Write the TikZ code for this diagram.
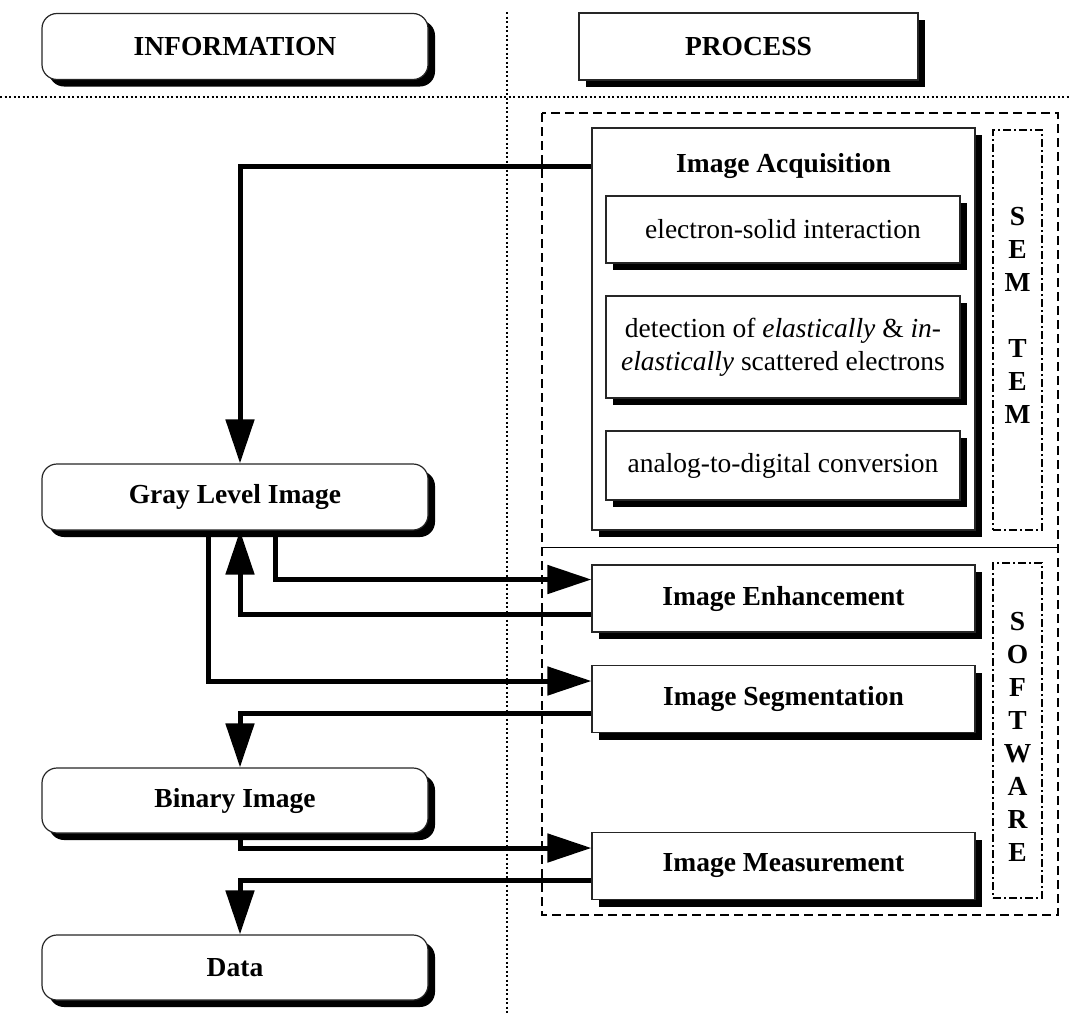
\documentclass[tikz,border=0pt]{standalone}
\usepackage{fontspec}
\setmainfont{Liberation Serif}
\usepackage{tikz}
\usetikzlibrary{arrows.meta,shadows}
\newcommand{\boxFont}{\fontsize{27.5}{33}\selectfont}
\tikzstyle{pixelGrid} = [x = 1pt, y = -1pt, every node/.style={font=\boxFont}]
\tikzstyle{boxShadow} = [drop shadow={shadow xshift=7pt, shadow yshift=-7pt, fill=black, opacity=1}]
\tikzstyle{infoBox} = [draw=black!85, line width=1.2pt, fill=white, rounded corners=15pt, minimum width=386pt, minimum height=66pt, font=\boxFont\bfseries, boxShadow]
\tikzstyle{procBox} = [draw=black!85, line width=1.2pt, fill=white, minimum width=383pt, minimum height=67pt, font=\boxFont\bfseries, boxShadow]
\tikzstyle{subBox} = [draw=black!85, line width=1.2pt, fill=white, minimum width=354pt, align=center, boxShadow]
\tikzstyle{sideBox} = [draw, line width=1.2pt, dash pattern=on 8pt off 3pt on 2pt off 3pt, minimum width=49pt]
\tikzstyle{sideText} = [font=\boxFont\bfseries, align=center, inner sep=0pt]
\tikzstyle{sepLine} = [line width=1.6pt, dash pattern=on 2pt off 2.5pt]
\tikzstyle{outerFrame} = [line width=1.3pt, dash pattern=on 9pt off 5pt]
\tikzstyle{flowArrow} = [line width=5pt, -{Triangle[length=44pt,width=28pt]}]

\begin{document}
\begin{tikzpicture}[pixelGrid]
  \useasboundingbox (0,0) rectangle (1071,1015);
  % separators
  \draw[sepLine] (0,97) -- (1071,97);
  \draw[sepLine] (507,12) -- (507,1015);
  % headings
  \node[infoBox] (infoHead) at (235,46.5) {INFORMATION};
  \node[procBox, minimum width=339pt] (procHead) at (748.5,46.5) {PROCESS};
  % process frame
  \draw[outerFrame] (542,113) rectangle (1058,915);
  \draw[line width=1pt] (542,547) -- (1058,547);

  % hardware part
  \node[procBox, minimum height=402pt] (acq) at (783.5,329) {};
  \node[font=\boxFont\bfseries] (acqTitle) at (783.5,166) {Image Acquisition};
  \node[subBox, minimum height=67pt] (interaction) at (783,229.5) {electron-solid interaction};
  \node[subBox, minimum height=102pt] (detection) at (783,347) {detection of \textit{elastically} \& \textit{in-}\\\textit{elastically} scattered electrons};
  \node[subBox, minimum height=69pt] (conversion) at (783,465.5) {analog-to-digital conversion};
  \node[sideBox, minimum height=400pt] (semFrame) at (1017.5,330) {};
  \node[sideText] (semText) at (1017.5,315) {S\\E\\M\\[33pt]T\\E\\M};

  % software part
  \node[procBox] (enh) at (783.5,598.5) {Image Enhancement};
  \node[procBox] (seg) at (783.5,699) {Image Segmentation};
  \node[procBox] (meas) at (783.5,866) {Image Measurement};
  \node[sideBox, minimum height=335pt] (softFrame) at (1017.5,730.5) {};
  \node[sideText] (softText) at (1017.5,737) {S\\O\\F\\T\\W\\A\\R\\E};

  % information
  \node[infoBox] (gray) at (235,497) {Gray Level Image};
  \node[infoBox, minimum height=65pt] (bin) at (235,800.5) {Binary Image};
  \node[infoBox, minimum height=65pt] (data) at (235,967.5) {Data};

  % flow
  \draw[flowArrow] (acq.west |- acqTitle) -| ([xshift=5pt]gray.north);
  \draw[flowArrow] ([xshift=40pt]gray.south) |- ([yshift=19pt]enh.west);
  \draw[flowArrow] ([yshift=-16pt]enh.west) -| ([xshift=5pt]gray.south);
  \draw[flowArrow] ([xshift=-27pt]gray.south) |- ([yshift=18pt]seg.west);
  \draw[flowArrow] ([yshift=-14pt]seg.west) -| ([xshift=5pt]bin.north);
  \draw[flowArrow] ([xshift=5pt]bin.south) |- ([yshift=18pt]meas.west);
  \draw[flowArrow] ([yshift=-14pt]meas.west) -| ([xshift=5pt]data.north);
\end{tikzpicture}
\end{document}
